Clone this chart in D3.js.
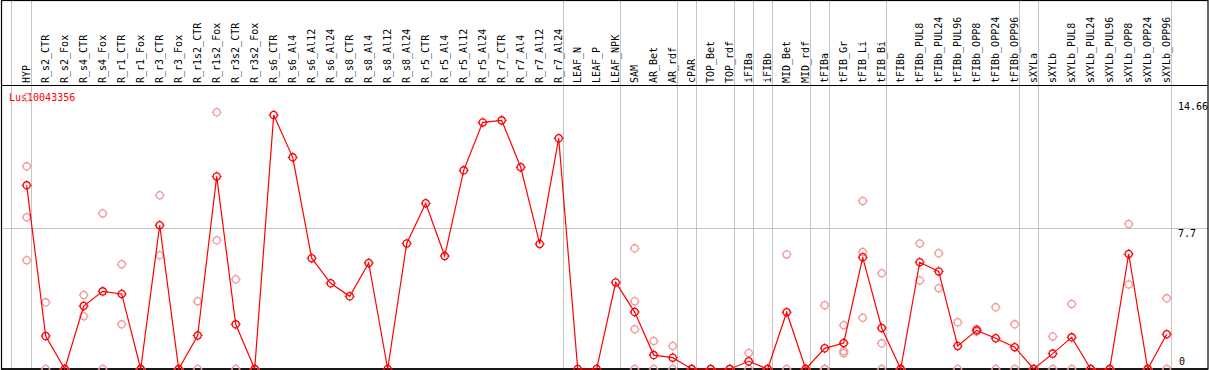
<!DOCTYPE html>
<html>
<head>
<meta charset="utf-8">
<script src="https://cdn.jsdelivr.net/npm/d3@7"></script>
<style>
  html, body { margin: 0; padding: 0; background: #fff; }
  svg { display: block; }
  text { font-family: "DejaVu Sans Mono", monospace; font-size: 10px; }
</style>
</head>
<body>
<svg id="chart" width="1209" height="370"></svg>
<script>
const title = "Lus10043356";

const categories = ["HYP","R_s2_CTR","R_s2_Fox","R_s4_CTR","R_s4_Fox","R_r1_CTR","R_r1_Fox","R_r3_CTR","R_r3_Fox",
  "R_r1s2_CTR","R_r1s2_Fox","R_r3s2_CTR","R_r3s2_Fox","R_s6_CTR","R_s6_Al4","R_s6_Al12","R_s6_Al24",
  "R_s8_CTR","R_s8_Al4","R_s8_Al12","R_s8_Al24","R_r5_CTR","R_r5_Al4","R_r5_Al12","R_r5_Al24",
  "R_r7_CTR","R_r7_Al4","R_r7_Al12","R_r7_Al24","LEAF_N","LEAF_P","LEAF_NPK","SAM","AR_Bet","AR_rdf",
  "cPAR","TOP_Bet","TOP_rdf","iFIBa","iFIBb","MID_Bet","MID_rdf","tFIBa","tFIB_Gr","tFIB_Li","tFIB_Bi",
  "tFIBb","tFIBb_PUL8","tFIBb_PUL24","tFIBb_PUL96","tFIBb_OPP8","tFIBb_OPP24","tFIBb_OPP96",
  "sXYLa","sXYLb","sXYLb_PUL8","sXYLb_PUL24","sXYLb_PUL96","sXYLb_OPP8","sXYLb_OPP24","sXYLb_OPP96"];

const means = [10.03,1.80,0,3.44,4.24,4.10,0,7.85,0,
  1.83,10.52,2.44,0,13.87,11.56,6.05,4.68,
  3.97,5.79,0,6.86,9.05,6.17,10.85,13.47,
  13.58,11.02,6.83,12.60,0,0,4.73,3.11,0.76,0.62,
  0,0,0,0.42,0,3.10,0,1.13,1.42,6.10,2.24,
  0,5.83,5.33,1.26,2.11,1.68,1.19,
  0,0.84,1.73,0,0,6.28,0,1.90];

const replicates = [[14.84,11.07,8.29,5.94],[3.64,0],[0,0],[4.04,2.88],[8.50,0],[5.72,2.44],[0,0],[9.49,6.21],[0,0],
  [3.70,0],[14.02,7.03],[4.90,0],[0,0],[],[],[],[],
  [],[],[],[],[],[],[],[],
  [],[],[],[],[],[],[],[6.59,3.70,2.17,0],[1.53,0],[1.26,0],
  [0,0],[0,0],[0,0],[0.88,0],[0,0],[6.26,0],[0,0],[3.48,0,0],[2.39,0.98,0.86],[9.18,6.39,2.80],[5.23,1.40,0],
  [0,0],[6.86,4.84],[6.32,4.41],[2.55,0],[2.18,2.05],[3.37,0],[2.44,0],
  [0,0],[1.78,0],[3.55,0],[0,0],[0,0],[7.92,4.62],[0,0],[3.86,0]];

// last category of each group (vertical separators drawn after these)
const groupEnds = ["HYP","R_r7_Al24","LEAF_NPK","AR_rdf","cPAR","TOP_rdf","iFIBa","iFIBb","MID_rdf",
  "tFIBa","tFIB_Bi","tFIBb_OPP96","sXYLa","sXYLb_OPP96"];

const yTicks = [14.66, 7.7, 0];
const yGrid = [7.7];

const svg = d3.select("#chart");

const x = d3.scalePoint().domain(categories).range([26.7, 1166.7]);
const y = d3.scaleLinear().domain([0, 14.66]).range([369, 100.6]);

const red = "#ff0000", pink = "#f09a9a", grid = "#c4c4c4";

// vertical group separators
const sepX = [x(categories[0]) - 16].concat(groupEnds.map(c => x(c) + 4));
svg.append("g").selectAll("line").data(sepX).join("line")
  .attr("x1", d => Math.round(d) + 0.5).attr("x2", d => Math.round(d) + 0.5)
  .attr("y1", 0).attr("y2", 369)
  .attr("stroke", grid).attr("stroke-width", 1);

// horizontal grid
svg.append("g").selectAll("line").data(yGrid).join("line")
  .attr("x1", 1).attr("x2", 1208)
  .attr("y1", d => Math.round(y(d)) + 0.5).attr("y2", d => Math.round(y(d)) + 0.5)
  .attr("stroke", grid).attr("stroke-width", 1);

// frame
svg.append("rect").attr("x", 1.5).attr("y", 0.5).attr("width", 1206.5).attr("height", 368.5)
  .attr("fill", "none").attr("stroke", "#000").attr("stroke-width", 1.2);
svg.append("line").attr("x1", 1).attr("x2", 1208).attr("y1", 85.5).attr("y2", 85.5)
  .attr("stroke", "#000").attr("stroke-width", 1.2);
svg.append("line").attr("x1", 1).attr("x2", 1208).attr("y1", 369).attr("y2", 369)
  .attr("stroke", "#000").attr("stroke-width", 1.5);

// column labels
svg.append("g").selectAll("text").data(categories).join("text")
  .attr("transform", d => `translate(${x(d) + 2.8},83) rotate(-90)`)
  .attr("fill", "#000")
  .text(d => d);

// title
svg.append("text").attr("x", 9).attr("y", 101).attr("fill", red).text(title);

// y labels
svg.append("g").selectAll("text").data(yTicks).join("text")
  .attr("x", d => d === 0 ? 1179 : 1178)
  .attr("y", d => d === 0 ? y(d) - 4 : y(d) + 9)
  .attr("fill", "#000")
  .text(d => d);

function marker(sel, color) {
  sel.append("circle").attr("r", 3.6).attr("fill", "none").attr("stroke", color).attr("stroke-width", 1.3);
  sel.append("path").attr("d", "M0,-3.6V-5M0,3.6V5M-3.6,0H-5M3.6,0H5")
    .attr("stroke", color).attr("stroke-width", 1);
}

// replicate points
const repPts = [];
categories.forEach((c, i) => replicates[i].forEach(v => repPts.push({c, v})));
svg.append("g").selectAll("g").data(repPts).join("g")
  .attr("transform", d => `translate(${x(d.c)},${y(d.v)})`)
  .call(marker, pink);

// mean line
const line = d3.line().x((d, i) => x(categories[i])).y(d => y(d));
svg.append("path").datum(means).attr("d", line)
  .attr("fill", "none").attr("stroke", red).attr("stroke-width", 1.2);

// mean points
svg.append("g").selectAll("g").data(means).join("g")
  .attr("transform", (d, i) => `translate(${x(categories[i])},${y(d)})`)
  .call(marker, red);
</script>
</body>
</html>
